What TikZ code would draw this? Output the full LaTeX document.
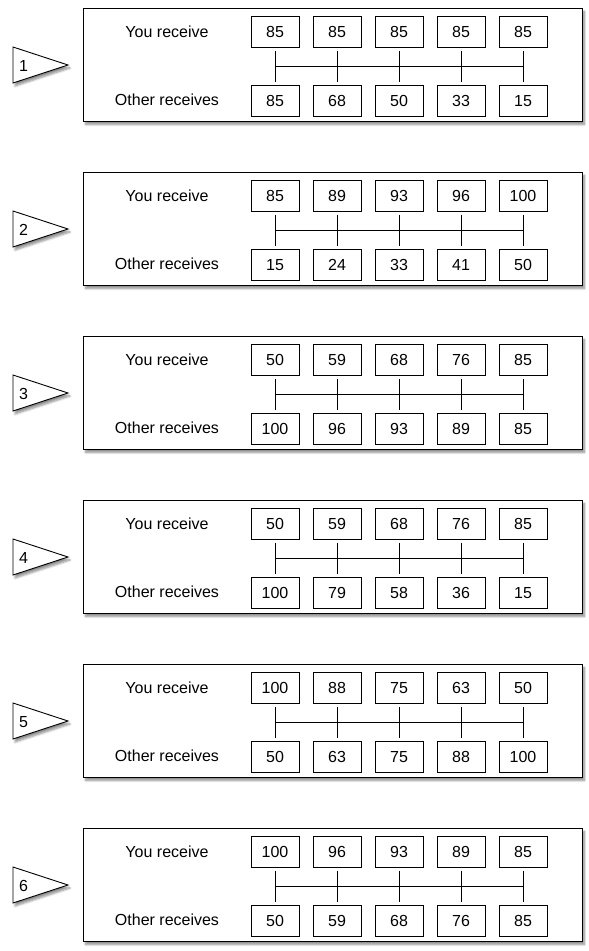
\documentclass[tikz,border=0pt]{standalone}
\usepackage{fontspec}
\setmainfont{Liberation Sans}
\usetikzlibrary{shadows.blur,calc}
\begin{document}
\begin{tikzpicture}[x=1pt,y=-1pt,
  panel/.style={draw=black,line width=0.9pt,fill=white,blur shadow={shadow xshift=2pt,shadow yshift=-3pt,shadow blur steps=6,shadow opacity=45}},
  valbox/.style={draw=black,line width=1pt,fill=white,minimum width=48pt,minimum height=31pt,inner sep=0pt,text height=11.5pt,text depth=0pt,font=\fontsize{16}{16}\selectfont},
  lbl/.style={font=\fontsize{16}{16}\selectfont,inner sep=0pt,text height=11.5pt,text depth=0pt},
  tri/.style={draw=black,line width=0.9pt,fill=white,blur shadow={shadow xshift=2pt,shadow yshift=-3pt,shadow blur steps=6,shadow opacity=45}},
  conn/.style={line width=1pt}]
\useasboundingbox (0,0) rectangle (589,951);
\foreach \k/\ya/\yb in {1/{85,85,85,85,85}/{85,68,50,33,15},
                        2/{85,89,93,96,100}/{15,24,33,41,50},
                        3/{50,59,68,76,85}/{100,96,93,89,85},
                        4/{50,59,68,76,85}/{100,79,58,36,15},
                        5/{100,88,75,63,50}/{50,63,75,88,100},
                        6/{100,96,93,89,85}/{50,59,68,76,85}}{
  \pgfmathsetmacro{\top}{8+164*(\k-1)}
  \begin{scope}[shift={(0,\top)}]
    \node[panel,minimum width=499pt,minimum height=113pt,inner sep=0pt,anchor=north west] (p\k) at (83,0) {};
    \draw[tri] (13,39) -- (68,57) -- (13,75) -- cycle;
    \node[lbl,anchor=west] (n\k) at (19,58) {\k};
    \node[lbl] (y\k) at (167,24) {You receive};
    \node[lbl] (o\k) at (167,92) {Other receives};
    \foreach \v [count=\i] in \ya {
      \node[valbox] (a\k\i) at (275+62*\i-62,23.5) {\v};
    }
    \foreach \v [count=\i] in \yb {
      \node[valbox] (b\k\i) at (275+62*\i-62,92.5) {\v};
    }
    \foreach \i in {1,...,5} {
      \draw[conn,shorten <=3pt,shorten >=3pt] (a\k\i.south) -- (b\k\i.north);
    }
    \coordinate (m\k) at ($(a\k1.south)!0.5!(b\k1.north)$);
    \coordinate (e\k) at ($(a\k5.south)!0.5!(b\k5.north)$);
    \draw[conn] (m\k) -- (e\k);
  \end{scope}
}
\end{tikzpicture}
\end{document}
